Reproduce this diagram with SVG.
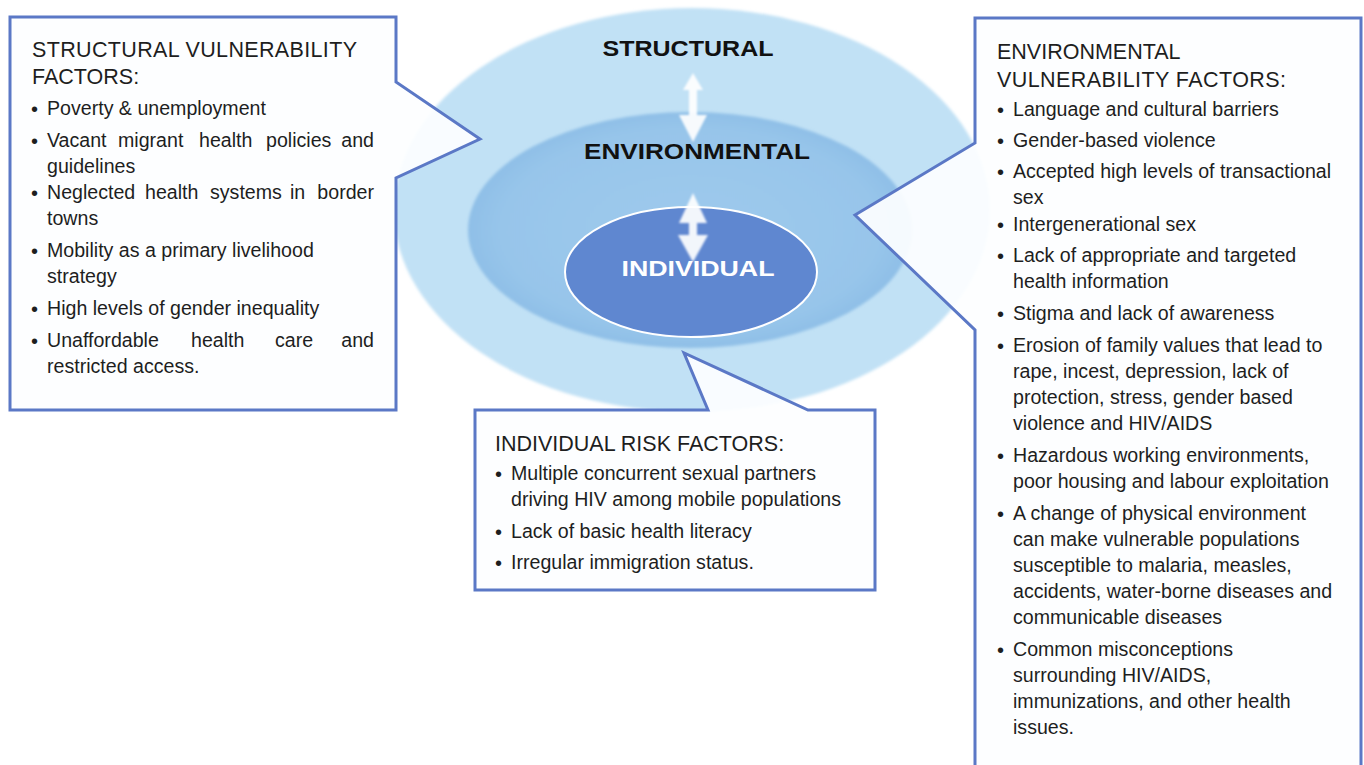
<svg xmlns="http://www.w3.org/2000/svg" width="1364" height="765" viewBox="0 0 1364 765">
<defs>
<radialGradient id="gMid" cx="0.5" cy="0.5" r="0.5">
<stop offset="0" stop-color="#9ecaec"/>
<stop offset="0.85" stop-color="#97c5ea"/>
<stop offset="1" stop-color="#8fbfe7"/>
</radialGradient>
<filter id="soft" x="-10%" y="-10%" width="120%" height="120%">
<feGaussianBlur stdDeviation="1.5"/>
</filter>
<filter id="soft2" x="-10%" y="-10%" width="120%" height="120%">
<feGaussianBlur stdDeviation="1.5"/>
</filter>
<filter id="glow" x="-50%" y="-20%" width="200%" height="140%">
<feGaussianBlur stdDeviation="0.9"/>
</filter>
</defs>
<style>
.box{fill:#fdfeff;fill-opacity:0.93;stroke:#5b78c6;stroke-width:3;stroke-linejoin:miter}
.t{font-family:"Liberation Sans",Arial,sans-serif;fill:#1e1e1e}
.title{font-size:21.5px}
.b{font-size:19.6px}
.dot{font-size:20px}
.lbl{font-family:"Liberation Sans",Arial,sans-serif;font-weight:bold;font-size:22px;fill:#111}
.arrow{fill:#ffffff;fill-opacity:0.92}
</style>
<rect width="1364" height="765" fill="#ffffff"/>
<g id="structural-level">
<ellipse cx="692" cy="210" rx="298" ry="202" fill="#c1e1f5" filter="url(#soft)"/>
<text class="lbl" x="688" y="56" text-anchor="middle" textLength="171" lengthAdjust="spacingAndGlyphs">STRUCTURAL</text>
</g>
<g id="environmental-level">
<ellipse cx="690" cy="230" rx="222" ry="118" fill="url(#gMid)" filter="url(#soft2)"/>
<text class="lbl" x="697" y="159" text-anchor="middle" textLength="226" lengthAdjust="spacingAndGlyphs">ENVIRONMENTAL</text>
</g>
<g id="individual-level">
<ellipse cx="691" cy="272" rx="126" ry="65" fill="#5f87d0" stroke="#ffffff" stroke-width="2"/>
<text class="lbl" x="698" y="276" text-anchor="middle" textLength="153" lengthAdjust="spacingAndGlyphs" style="fill:#ffffff">INDIVIDUAL</text>
</g>
<g id="connectors">
<polygon class="arrow" filter="url(#glow)" points="693,73 703,90 697,90 697,115 707,115 693,142 679,115 689,115 689,90 683,90"/>
<polygon class="arrow" filter="url(#glow)" points="693,193 707,223 697,223 697,235 708,235 693,262 678,235 689,235 689,223 679,223"/>
</g>
<g id="structural-factors">
<path class="box" d="M10,17 H396 V82 L480,139 L396,178 V410 H10 Z"/>
<text class="t title" x="32" y="57" textLength="325">STRUCTURAL VULNERABILITY</text>
<text class="t title" x="32" y="84">FACTORS:</text>
<text class="t dot" x="31" y="116">•</text>
<text class="t b" x="47" y="115">Poverty &amp; unemployment</text>
<text class="t dot" x="31" y="148">•</text>
<text class="t b" y="147"><tspan x="47">Vacant</tspan><tspan x="118">migrant</tspan><tspan x="199">health</tspan><tspan x="266">policies</tspan><tspan x="374" text-anchor="end">and</tspan></text>
<text class="t b" x="47" y="173">guidelines</text>
<text class="t dot" x="31" y="200">•</text>
<text class="t b" y="199"><tspan x="47">Neglected</tspan><tspan x="145">health</tspan><tspan x="210">systems</tspan><tspan x="290">in</tspan><tspan x="374" text-anchor="end">border</tspan></text>
<text class="t b" x="47" y="225">towns</text>
<text class="t dot" x="31" y="258">•</text>
<text class="t b" x="47" y="257">Mobility as a primary livelihood</text>
<text class="t b" x="47" y="283">strategy</text>
<text class="t dot" x="31" y="316">•</text>
<text class="t b" x="47" y="315">High levels of gender inequality</text>
<text class="t dot" x="31" y="348">•</text>
<text class="t b" y="347"><tspan x="47">Unaffordable</tspan><tspan x="191">health</tspan><tspan x="275">care</tspan><tspan x="374" text-anchor="end">and</tspan></text>
<text class="t b" x="47" y="373">restricted access.</text>
</g>
<g id="environmental-factors">
<path class="box" d="M975,18 H1361 V775 H975 V330 L855,215 L975,143 Z"/>
<text class="t title" x="997" y="59">ENVIRONMENTAL</text>
<text class="t title" x="997" y="87" textLength="289">VULNERABILITY FACTORS:</text>
<text class="t dot" x="997" y="117">•</text>
<text class="t b" x="1013" y="116">Language and cultural barriers</text>
<text class="t dot" x="997" y="148">•</text>
<text class="t b" x="1013" y="147">Gender-based violence</text>
<text class="t dot" x="997" y="179">•</text>
<text class="t b" x="1013" y="178">Accepted high levels of transactional</text>
<text class="t b" x="1013" y="204">sex</text>
<text class="t dot" x="997" y="232">•</text>
<text class="t b" x="1013" y="231">Intergenerational sex</text>
<text class="t dot" x="997" y="263">•</text>
<text class="t b" x="1013" y="262">Lack of appropriate and targeted</text>
<text class="t b" x="1013" y="288">health information</text>
<text class="t dot" x="997" y="321">•</text>
<text class="t b" x="1013" y="320">Stigma and lack of awareness</text>
<text class="t dot" x="997" y="353">•</text>
<text class="t b" x="1013" y="352">Erosion of family values that lead to</text>
<text class="t b" x="1013" y="378">rape, incest, depression, lack of</text>
<text class="t b" x="1013" y="404">protection, stress, gender based</text>
<text class="t b" x="1013" y="430">violence and HIV/AIDS</text>
<text class="t dot" x="997" y="463">•</text>
<text class="t b" x="1013" y="462">Hazardous working environments,</text>
<text class="t b" x="1013" y="488">poor housing and labour exploitation</text>
<text class="t dot" x="997" y="521">•</text>
<text class="t b" x="1013" y="520">A change of physical environment</text>
<text class="t b" x="1013" y="546">can make vulnerable populations</text>
<text class="t b" x="1013" y="572">susceptible to malaria, measles,</text>
<text class="t b" x="1013" y="598">accidents, water-borne diseases and</text>
<text class="t b" x="1013" y="624">communicable diseases</text>
<text class="t dot" x="997" y="657">•</text>
<text class="t b" x="1013" y="656">Common misconceptions</text>
<text class="t b" x="1013" y="682">surrounding HIV/AIDS,</text>
<text class="t b" x="1013" y="708">immunizations, and other health</text>
<text class="t b" x="1013" y="734">issues.</text>
</g>
<g id="individual-factors">
<path class="box" d="M475,410 H708 L684,353 L808,410 H875 V590 H475 Z"/>
<text class="t title" x="495" y="451">INDIVIDUAL RISK FACTORS:</text>
<text class="t dot" x="495" y="481">•</text>
<text class="t b" x="511" y="480">Multiple concurrent sexual partners</text>
<text class="t b" x="511" y="506">driving HIV among mobile populations</text>
<text class="t dot" x="495" y="539">•</text>
<text class="t b" x="511" y="538">Lack of basic health literacy</text>
<text class="t dot" x="495" y="570">•</text>
<text class="t b" x="511" y="569">Irregular immigration status.</text>
</g>
</svg>
